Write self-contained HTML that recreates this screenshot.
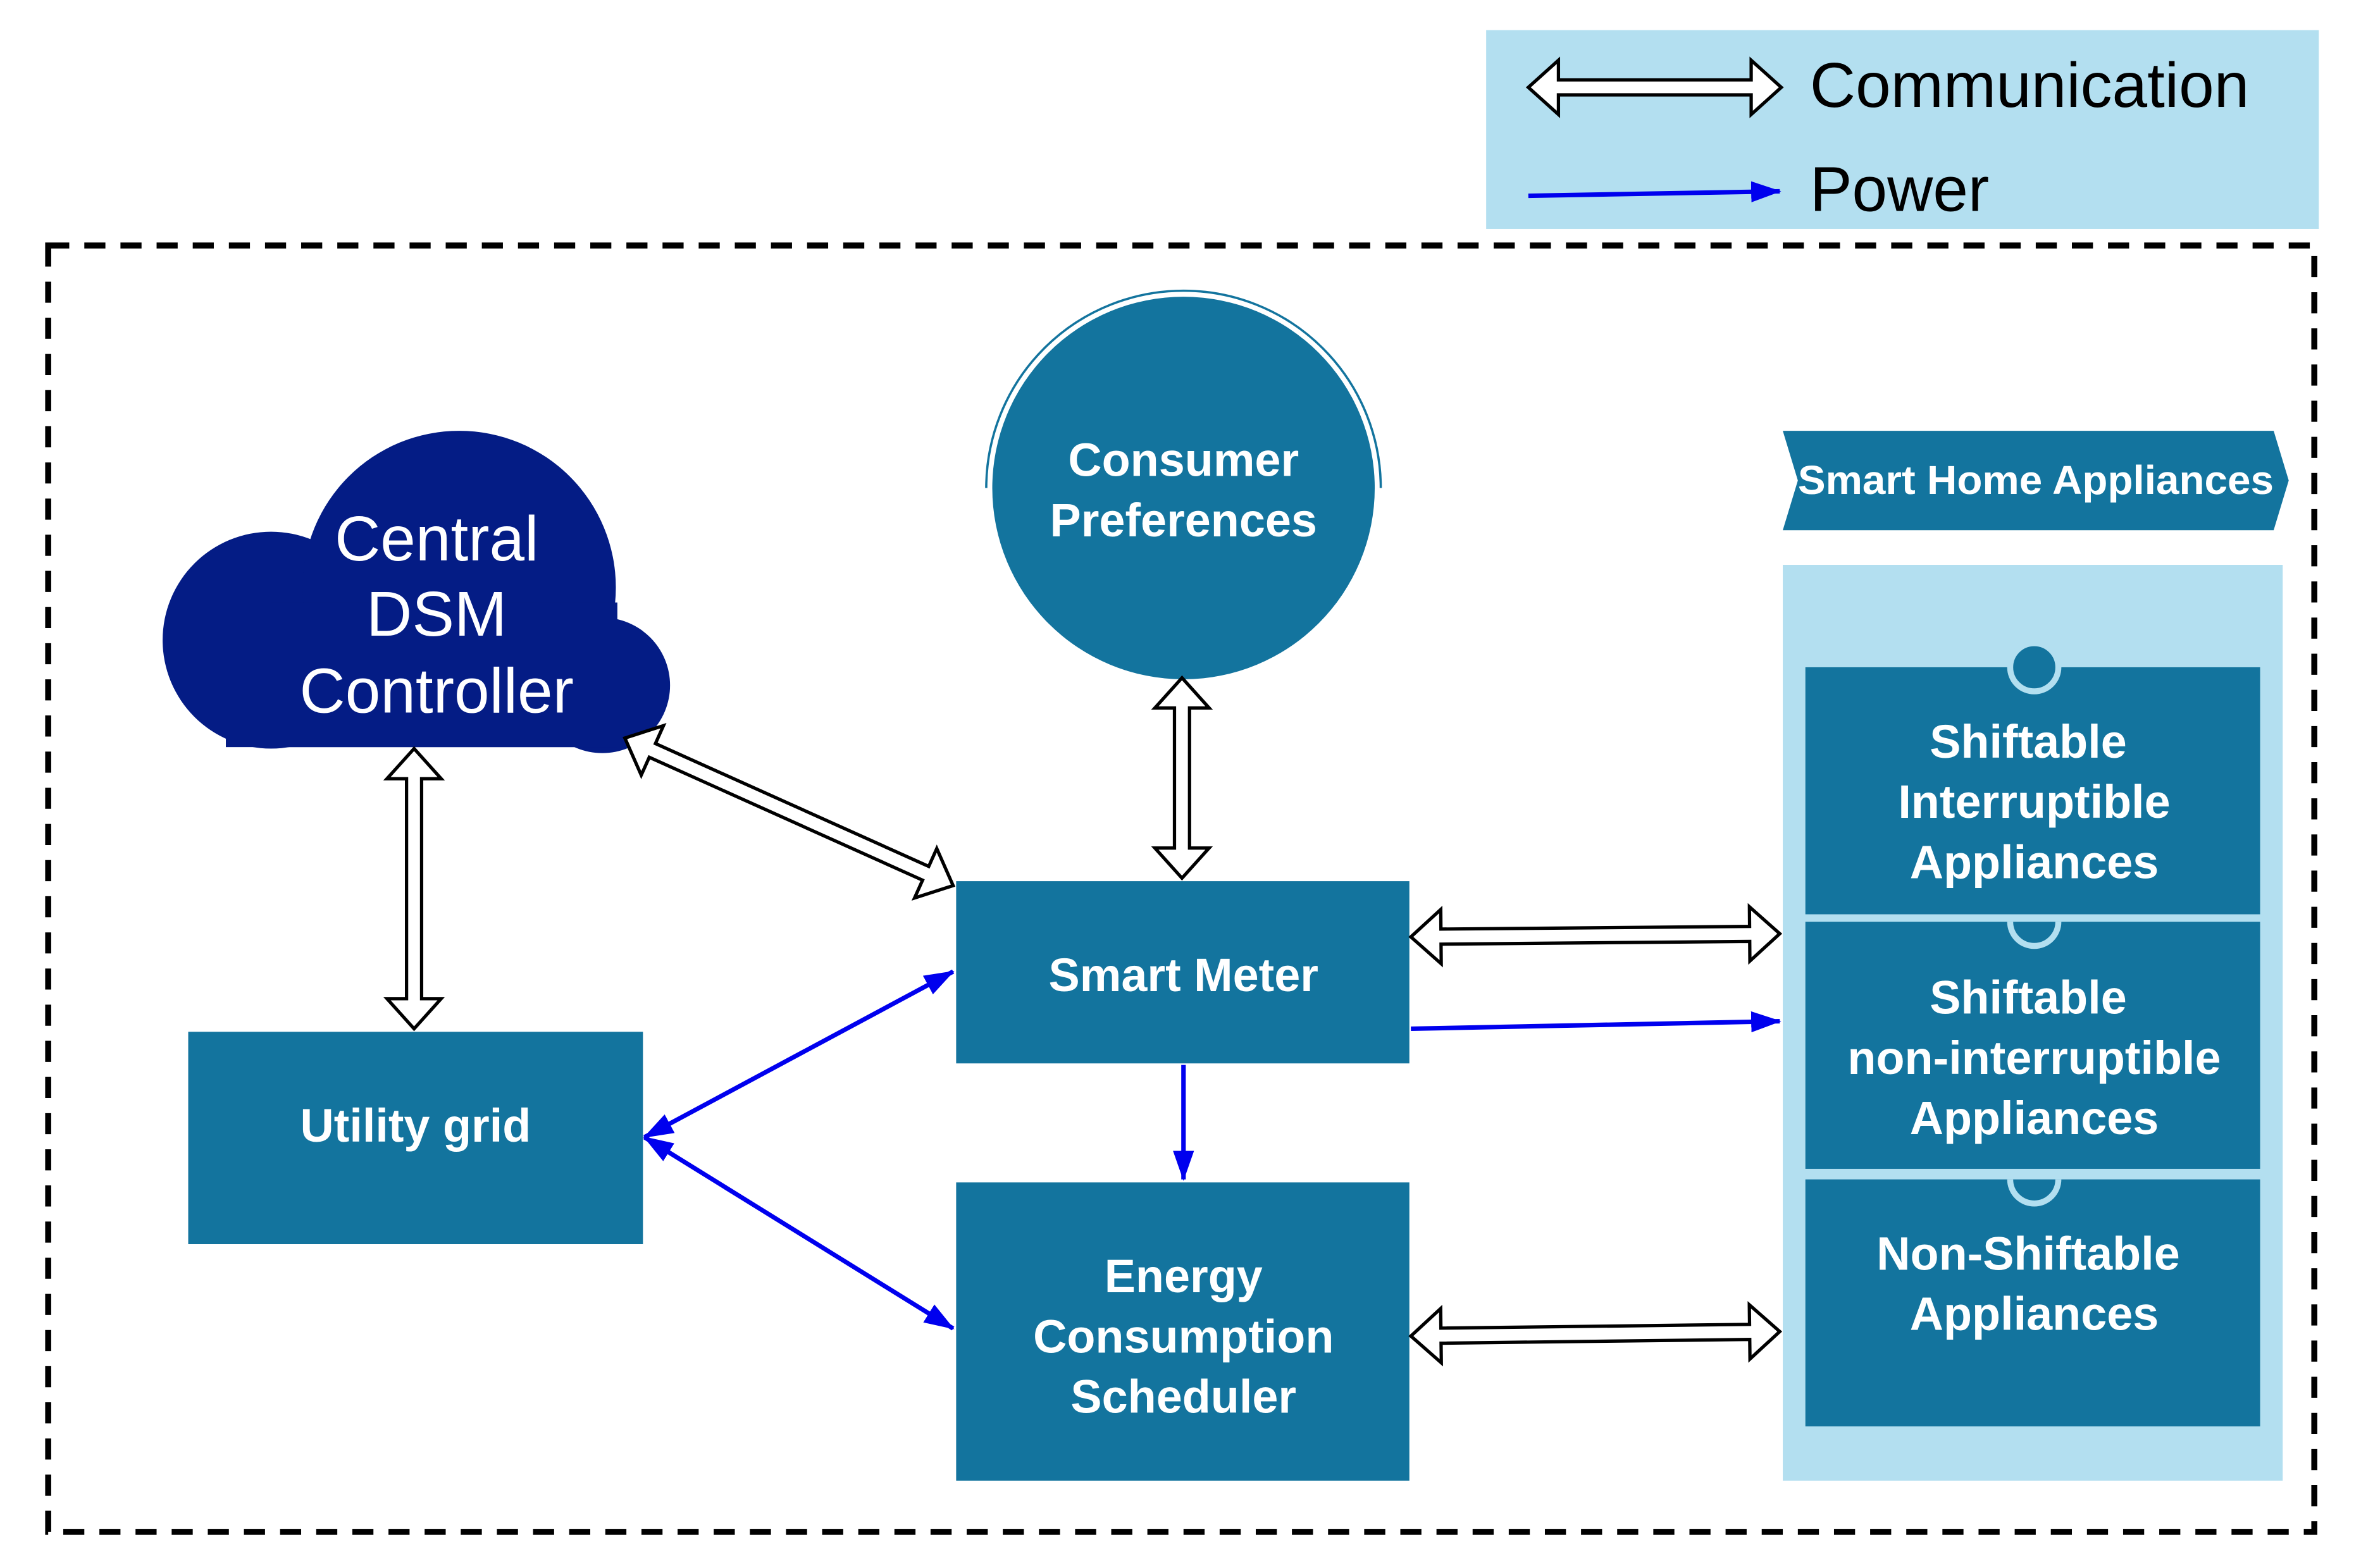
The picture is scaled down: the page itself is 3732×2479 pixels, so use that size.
<!DOCTYPE html>
<html><head><meta charset="utf-8"><style>
html,body{margin:0;padding:0;background:#fff}
svg{display:block}
text{font-family:"Liberation Sans",sans-serif}
.w{fill:#fff;font-weight:bold;font-size:31px;text-anchor:middle}
</style></head><body>
<svg width="3732" height="2479" viewBox="0 0 1568 1041" preserveAspectRatio="none" xmlns="http://www.w3.org/2000/svg">
<defs>
<marker id="bh" markerWidth="20" markerHeight="14" refX="19" refY="7" orient="auto-start-reverse" markerUnits="userSpaceOnUse" viewBox="0 0 20 14"><path d="M0,0 L20,7 L0,14 Z" fill="#0000ee"/></marker>
</defs>
<!-- legend -->
<rect x="987" y="20" width="553" height="132" fill="#b3dff0"/>
<text x="1202" y="71" font-size="42">Communication</text>
<text x="1202" y="140" font-size="42">Power</text>
<!-- dashed border -->
<rect x="32" y="163" width="1505" height="854" fill="none" stroke="#000" stroke-width="4" stroke-dasharray="14,10"/>
<!-- cloud -->
<g fill="#041c85">
<circle cx="180" cy="425" r="72"/>
<circle cx="305" cy="390" r="104"/>
<circle cx="400" cy="455" r="45"/>
<rect x="180" y="400" width="230" height="96"/>
<rect x="150" y="440" width="260" height="56"/>
</g>
<text x="290" y="372" font-size="42" fill="#fff" text-anchor="middle">Central</text>
<text x="290" y="422" font-size="42" fill="#fff" text-anchor="middle">DSM</text>
<text x="290" y="473" font-size="42" fill="#fff" text-anchor="middle">Controller</text>
<!-- consumer -->
<path d="M655,324 A131,131 0 0 1 917,324" fill="none" stroke="#13749e" stroke-width="1.5"/>
<circle cx="786" cy="324" r="127" fill="#13749e"/>
<text class="w" x="786" y="316">Consumer</text>
<text class="w" x="786" y="356">Preferences</text>
<!-- banner -->
<polygon points="1184,286 1510,286 1520,319 1510,352 1184,352 1194,319" fill="#13749e"/>
<text x="1352" y="328" fill="#fff" font-weight="bold" font-size="27" text-anchor="middle" textLength="316" lengthAdjust="spacingAndGlyphs">Smart Home Appliances</text>
<!-- appliance panel -->
<rect x="1184" y="375" width="332" height="608" fill="#b3dff0"/>
<rect x="1199" y="443" width="302" height="164" fill="#13749e"/>
<rect x="1199" y="612" width="302" height="164" fill="#13749e"/>
<rect x="1199" y="783" width="302" height="164" fill="#13749e"/>
<circle cx="1351" cy="443" r="16" fill="#13749e" stroke="#b3dff0" stroke-width="4"/>
<path d="M1335,612 A16,16 0 0 0 1367,612" fill="none" stroke="#b3dff0" stroke-width="4"/>
<path d="M1335,783 A16,16 0 0 0 1367,783" fill="none" stroke="#b3dff0" stroke-width="4"/>
<text class="w" x="1347" y="503">Shiftable</text>
<text class="w" x="1351" y="543">Interruptible</text>
<text class="w" x="1351" y="583">Appliances</text>
<text class="w" x="1347" y="673">Shiftable</text>
<text class="w" x="1351" y="713">non-interruptible</text>
<text class="w" x="1351" y="753">Appliances</text>
<text class="w" x="1347" y="843">Non-Shiftable</text>
<text class="w" x="1351" y="883">Appliances</text>
<!-- boxes -->
<rect x="635" y="585" width="301" height="121" fill="#13749e"/>
<text class="w" x="786" y="658">Smart Meter</text>
<rect x="125" y="685" width="302" height="141" fill="#13749e"/>
<text class="w" x="276" y="758">Utility grid</text>
<rect x="635" y="785" width="301" height="198" fill="#13749e"/>
<text class="w" x="786" y="858">Energy</text>
<text class="w" x="786" y="898">Consumption</text>
<text class="w" x="786" y="938">Scheduler</text>
<!-- hollow double arrows -->
<g fill="#fff" stroke="#000" stroke-width="2.2" stroke-linejoin="miter">
<polygon points="1015,58 1035,40 1035,53 1163,53 1163,40 1183,58 1163,76 1163,63 1035,63 1035,76"/>
<g transform="translate(275,497) rotate(90)"><polygon points="0,0 20,-18 20,-5 166,-5 166,-18 186,0 166,18 166,5 20,5 20,18"/></g>
<g transform="translate(415,490) rotate(24.2)"><polygon points="0,0 20,-18 20,-5 219,-5 219,-18 239,0 219,18 219,5 20,5 20,18"/></g>
<g transform="translate(785,450) rotate(90)"><polygon points="0,0 20,-18 20,-5 113,-5 113,-18 133,0 113,18 113,5 20,5 20,18"/></g>
<g transform="translate(937,622) rotate(-0.5)"><polygon points="0,0 20,-18 20,-5 225,-5 225,-18 245,0 225,18 225,5 20,5 20,18"/></g>
<g transform="translate(937,887) rotate(-0.7)"><polygon points="0,0 20,-18 20,-5 225,-5 225,-18 245,0 225,18 225,5 20,5 20,18"/></g>
</g>
<!-- blue arrows -->
<g stroke="#0000ee" stroke-width="3" fill="none">
<line x1="1015" y1="130" x2="1182" y2="127" marker-end="url(#bh)"/>
<line x1="428" y1="755" x2="633" y2="645" marker-start="url(#bh)" marker-end="url(#bh)"/>
<line x1="428" y1="755" x2="633" y2="882" marker-start="url(#bh)" marker-end="url(#bh)"/>
<line x1="786" y1="707" x2="786" y2="783" marker-end="url(#bh)"/>
<line x1="937" y1="683" x2="1182" y2="678" marker-end="url(#bh)"/>
</g>
</svg>
</body></html>
